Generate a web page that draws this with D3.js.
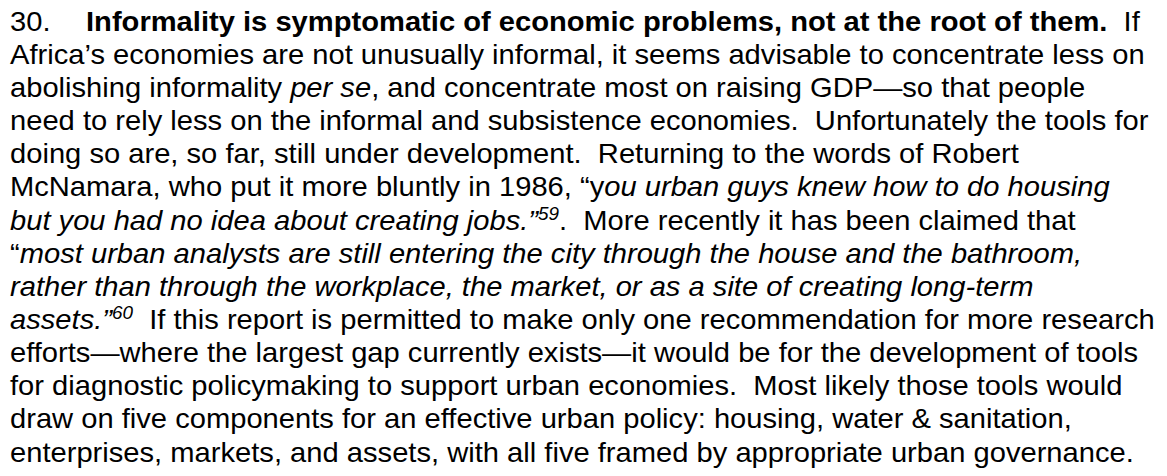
<!DOCTYPE html>
<html>
<head>
<meta charset="utf-8">
<script src="https://cdn.jsdelivr.net/npm/d3@7"></script>
<style>
  html, body { margin: 0; padding: 0; background: #fff; }
  svg { display: block; }
  text { white-space: pre; }
</style>
</head>
<body>
<div id="chart"></div>
<script>
// Paragraph number and text lines; each segment: [text, style] where style: n=normal, b=bold, i=italic, s=superscript (italic)
const paraNumber = "30.";
const lines = [
  [["Informality is symptomatic of economic problems, not at the root of them.", "b"], ["  If", "n"]],
  [["Africa\u2019s economies are not unusually informal, it seems advisable to concentrate less on", "n"]],
  [["abolishing informality ", "n"], ["per se", "i"], [", and concentrate most on raising GDP\u2014so that people", "n"]],
  [["need to rely less on the informal and subsistence economies.  Unfortunately the tools for", "n"]],
  [["doing so are, so far, still under development.  Returning to the words of Robert", "n"]],
  [["McNamara, who put it more bluntly in 1986, \u201cy", "n"], ["ou urban guys knew how to do housing", "i"]],
  [["but you had no idea about creating jobs.\u201d", "i"], ["59", "s"], [".  More recently it has been claimed that", "n"]],
  [["\u201c", "n"], ["most urban analysts are still entering the city through the house and the bathroom,", "i"]],
  [["rather than through the workplace, the market, or as a site of creating long-term", "i"]],
  [["assets.\u201d", "i"], ["60", "s"], ["  If this report is permitted to make only one recommendation for more research", "n"]],
  [["efforts\u2014where the largest gap currently exists\u2014it would be for the development of tools", "n"]],
  [["for diagnostic policymaking to support urban economies.  Most likely those tools would", "n"]],
  [["draw on five components for an effective urban policy: housing, water & sanitation,", "n"]],
  [["enterprises, markets, and assets, with all five framed by appropriate urban governance.", "n"]]
];

const W = 1167, H = 476;
const fontSize = 27;
const supSize = 17.5;
const supRise = 10;
const left = 10;
const firstIndent = 86;
const line2End = 1142, lastLineEnd = 1138;

const y = d3.scaleLinear().domain([0, lines.length - 1]).range([30.7, 30.7 + 33.15 * (lines.length - 1)]);

const svg = d3.select("#chart").append("svg")
  .attr("width", W).attr("height", H)
  .style("font-family", "'Liberation Sans', Arial, Helvetica, sans-serif")
  .style("font-size", fontSize + "px")
  .attr("fill", "#000");

const g = svg.append("g");

const num = g.append("text")
  .attr("x", 0).attr("y", y(0))
  .text(paraNumber);

const rows = g.selectAll("text.line")
  .data(lines)
  .join("text")
  .attr("class", "line")
  .attr("x", 0)
  .attr("y", (d, i) => y(i));

rows.each(function(segs) {
  const t = d3.select(this);
  let raised = false;
  segs.forEach(([txt, st]) => {
    const ts = t.append("tspan").text(txt);
    if (st === "b") ts.attr("font-weight", "bold");
    if (st === "i") ts.attr("font-style", "italic");
    if (st === "s") {
      ts.attr("font-style", "italic").attr("font-size", supSize + "px").attr("dy", -supRise);
      raised = true;
    } else if (raised) {
      ts.attr("dy", supRise);
      raised = false;
    }
  });
});

// horizontal scale so line lengths match the reference page
const nodes = rows.nodes();
const sx = ((line2End - left) / nodes[1].getComputedTextLength() +
            (lastLineEnd - left) / nodes[lines.length - 1].getComputedTextLength()) / 2;
g.attr("transform", `translate(${left},0) scale(${sx},1)`);
rows.filter((d, i) => i === 0).attr("x", (firstIndent - left) / sx);
</script>
</body>
</html>
